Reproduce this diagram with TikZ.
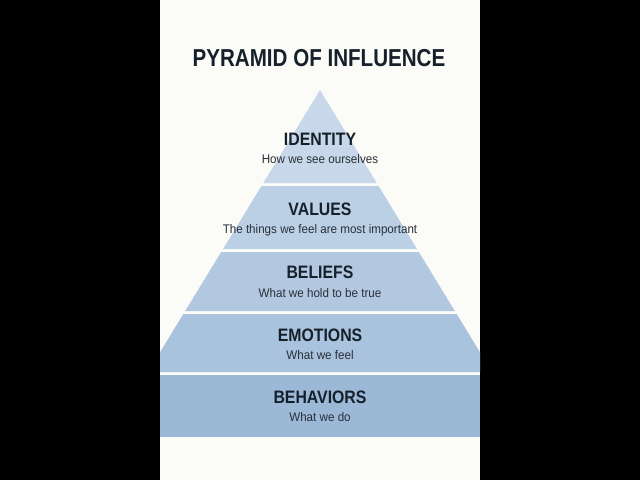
\documentclass[tikz,border=0pt]{standalone}
\usepackage{fontspec}
\setmainfont{Liberation Sans}
\newfontfamily\headfont[FakeStretch=0.84]{Liberation Sans}
\newfontfamily\condfont[FakeStretch=0.88]{Liberation Sans}
\newfontfamily\subfont[FakeStretch=0.93]{Liberation Sans}
\definecolor{panel}{HTML}{FBFBF8}
\definecolor{lay1}{HTML}{C8D8EA}
\definecolor{lay2}{HTML}{BCD0E5}
\definecolor{lay3}{HTML}{B2C8E0}
\definecolor{lay4}{HTML}{A9C2DD}
\definecolor{lay5}{HTML}{9BB8D7}
\definecolor{ink}{HTML}{16202A}
\definecolor{subink}{HTML}{2A3038}
\tikzset{
  heading/.style={font=\headfont\bfseries\fontsize{24.5}{28}\selectfont, text=ink, inner sep=0pt, anchor=base},
  layertitle/.style={font=\condfont\bfseries\fontsize{18}{20}\selectfont, text=ink, inner sep=0pt, anchor=base},
  layersub/.style={font=\subfont\fontsize{12.5}{14}\selectfont, text=subink, inner sep=0pt, anchor=base},
}
\begin{document}
\begin{tikzpicture}[x=1pt,y=-1pt]
\useasboundingbox (0,0) rectangle (640,480);
\fill[black] (0,0) rectangle (640,480);
\fill[panel] (160,0) rectangle (480,480);
\begin{scope}
\clip (160,0) rectangle (480,480);
% half-width = 0.61*(y-90)
\fill[lay1] (320,90) -- ({320-0.61*93},183) -- ({320+0.61*93},183) -- cycle;
\fill[lay2] ({320-0.61*96},186) -- ({320+0.61*96},186) -- ({320+0.61*159},249) -- ({320-0.61*159},249) -- cycle;
\fill[lay3] ({320-0.61*162},252) -- ({320+0.61*162},252) -- ({320+0.61*221},311) -- ({320-0.61*221},311) -- cycle;
\fill[lay4] ({320-0.61*224},314) -- ({320+0.61*224},314) -- ({320+0.61*282},372) -- ({320-0.61*282},372) -- cycle;
\fill[lay5] (160,375) rectangle (480,437);
\end{scope}
\node[heading] (title) at (319,66) {PYRAMID OF INFLUENCE};
\node[layertitle] (t1) at (320,145.5) {IDENTITY};
\node[layersub] (s1) at (320,163) {How we see ourselves};
\node[layertitle] (t2) at (320,215.5) {VALUES};
\node[layersub] (s2) at (320,233) {The things we feel are most important};
\node[layertitle] (t3) at (320,278.5) {BELIEFS};
\node[layersub] (s3) at (320,297) {What we hold to be true};
\node[layertitle] (t4) at (320,341.5) {EMOTIONS};
\node[layersub] (s4) at (320,359) {What we feel};
\node[layertitle] (t5) at (320,403.5) {BEHAVIORS};
\node[layersub] (s5) at (320,421) {What we do};
\end{tikzpicture}
\end{document}
